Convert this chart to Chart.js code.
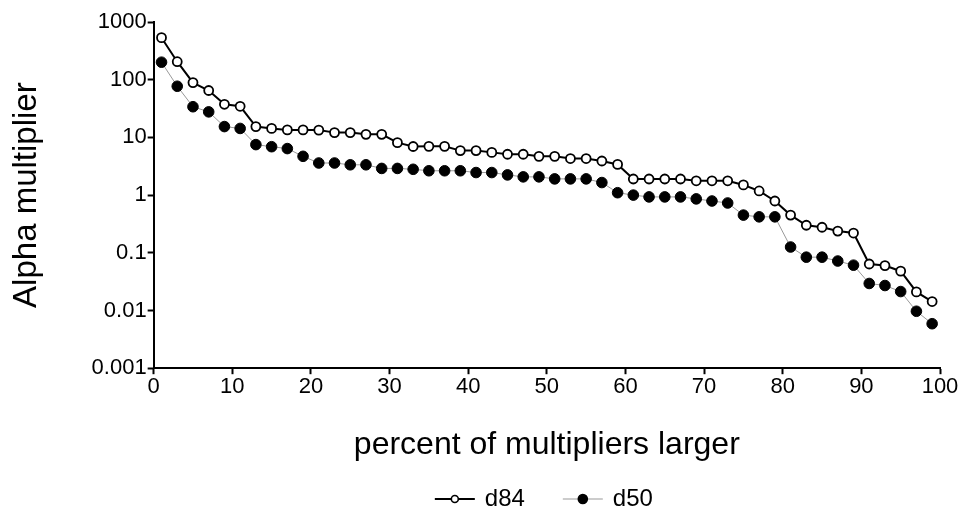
<!DOCTYPE html>
<html>
<head>
<meta charset="utf-8">
<script src="https://cdn.jsdelivr.net/npm/chart.js@4/dist/chart.umd.min.js"></script>
<style>
  html, body { margin: 0; padding: 0; background: #fff; }
  #wrap { width: 962px; height: 514px; }
</style>
</head>
<body>
<div id="wrap"><canvas id="alphaChart" width="962" height="514"></canvas></div>
<script>
// percent of multipliers larger (x positions)
const percents = [1, 3, 5, 7, 9, 11, 13, 15, 17, 19, 21, 23, 25, 27, 29, 31, 33, 35, 37, 39, 41, 43, 45, 47, 49,
                  51, 53, 55, 57, 59, 61, 63, 65, 67, 69, 71, 73, 75, 77, 79, 81, 83, 85, 87, 89, 91, 93, 95, 97, 99];
const d84 = [535, 205, 89, 65, 37.5, 34.6, 15.4, 14.3, 13.5, 13.5, 13.4, 12.1, 12.1, 11.3, 11.3, 8.1, 6.95, 7.0, 7.0, 5.9,
             5.9, 5.5, 5.1, 5.1, 4.7, 4.7, 4.3, 4.3, 3.9, 3.4, 1.9, 1.9, 1.9, 1.9, 1.77, 1.77, 1.77, 1.5, 1.18, 0.79,
             0.45, 0.30, 0.277, 0.238, 0.22, 0.064, 0.060, 0.048, 0.021, 0.0143];
const d50 = [201, 77, 34, 27.7, 15.4, 14.3, 7.5, 6.9, 6.4, 4.7, 3.6, 3.6, 3.35, 3.35, 2.9, 2.9, 2.8, 2.64, 2.64, 2.64,
             2.46, 2.46, 2.24, 2.07, 2.07, 1.91, 1.91, 1.91, 1.65, 1.1, 1.0, 0.93, 0.93, 0.93, 0.86, 0.79, 0.73, 0.45, 0.42, 0.42,
             0.126, 0.084, 0.084, 0.072, 0.061, 0.0294, 0.0271, 0.0213, 0.0097, 0.0059];
const yTicks = [0.001, 0.01, 0.1, 1, 10, 100, 1000];

const FONT = '"Liberation Sans", Arial, sans-serif';

// legend drawn under the plot: line + marker, then the label
const lineLegend = {
    id: 'lineLegend',
    afterDraw(chart) {
        const g = chart.ctx;
        const area = chart.chartArea;
        const cx = (area.left + area.right) / 2;
        const y = 499;
        const items = [
            { x: cx - 112, ds: chart.data.datasets[0], r: 3.5 },
            { x: cx + 16, ds: chart.data.datasets[1], r: 4.5 }
        ];
        g.save();
        g.font = '24px ' + FONT;
        g.textBaseline = 'middle';
        g.fillStyle = '#000';
        items.forEach(it => {
            g.strokeStyle = it.ds.borderColor;
            g.lineWidth = it.ds.borderWidth;
            g.beginPath(); g.moveTo(it.x, y); g.lineTo(it.x + 40, y); g.stroke();
            g.beginPath(); g.arc(it.x + 20, y, it.r, 0, Math.PI * 2);
            g.fillStyle = it.ds.pointBackgroundColor; g.fill();
            g.lineWidth = 1.6; g.strokeStyle = '#000'; g.stroke();
            g.fillStyle = '#000';
            g.fillText(it.ds.label, it.x + 50, y);
        });
        g.restore();
    }
};

const ctx = document.getElementById('alphaChart').getContext('2d');
const alphaChart = new Chart(ctx, {
    type: 'line',
    data: {
        datasets: [{
            label: 'd84',
            data: percents.map((p, i) => ({ x: p, y: d84[i] })),
            borderColor: '#000',
            borderWidth: 2,
            pointRadius: 4.5,
            pointBorderWidth: 1.8,
            pointBackgroundColor: '#fff',
            pointBorderColor: '#000',
            tension: 0
        }, {
            label: 'd50',
            data: percents.map((p, i) => ({ x: p, y: d50[i] })),
            borderColor: '#999',
            borderWidth: 1,
            pointRadius: 5.3,
            pointBorderWidth: 1,
            pointBackgroundColor: '#000',
            pointBorderColor: '#000',
            tension: 0
        }]
    },
    plugins: [lineLegend],
    options: {
        responsive: false,
        animation: false,
        layout: { padding: { left: 7, right: 22, top: 22, bottom: 50 } },
        plugins: {
            legend: { display: false },
            tooltip: { enabled: false }
        },
        scales: {
            x: {
                type: 'linear',
                min: 0,
                max: 100,
                ticks: { stepSize: 10, color: '#000', font: { family: FONT, size: 22 }, padding: 0 },
                grid: { drawOnChartArea: false, drawTicks: true, tickLength: 6, tickWidth: 2, tickColor: '#000' },
                border: { display: true, color: '#000', width: 2 },
                title: { display: true, text: 'percent of multipliers larger', color: '#000', font: { family: FONT, size: 32 }, padding: { top: 25, bottom: 0 } }
            },
            y: {
                type: 'logarithmic',
                min: 0.001,
                max: 1000,
                afterBuildTicks: (axis) => { axis.ticks = yTicks.map(v => ({ value: v })); },
                ticks: { color: '#000', font: { family: FONT, size: 22 }, padding: 1, callback: (v) => String(v) },
                grid: { drawOnChartArea: false, drawTicks: true, tickLength: 6, tickWidth: 2, tickColor: '#000' },
                border: { display: true, color: '#000', width: 2 },
                title: { display: true, text: 'Alpha multiplier', color: '#000', font: { family: FONT, size: 33 }, padding: { top: 0, bottom: 44 } }
            }
        }
    }
});
</script>
</body>
</html>
